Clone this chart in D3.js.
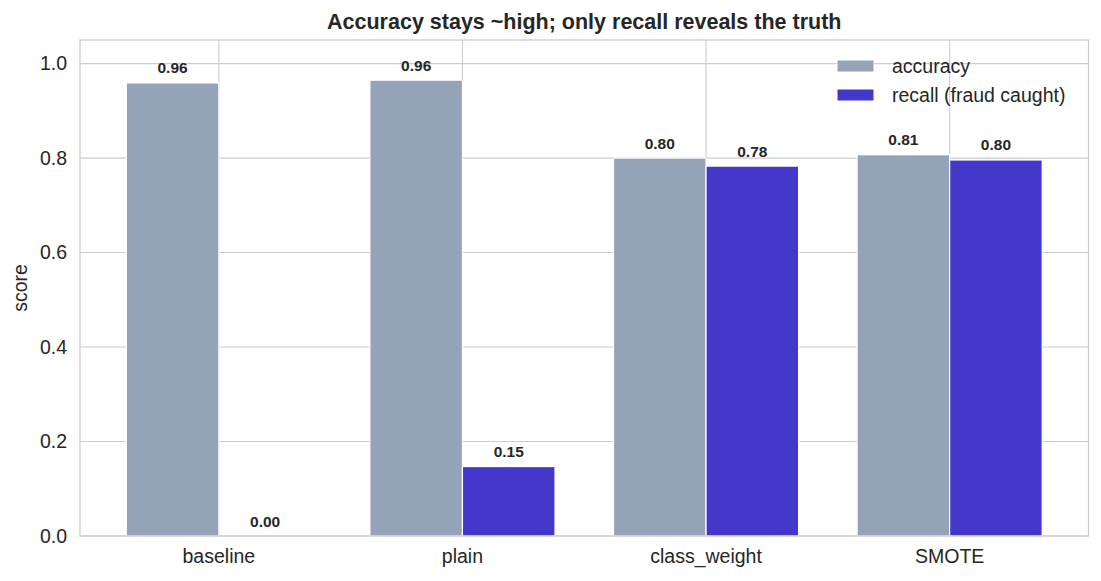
<!DOCTYPE html>
<html>
<head>
<meta charset="utf-8">
<script src="https://cdn.jsdelivr.net/npm/d3@7"></script>
<style>
  body { margin: 0; background: #fff; }
  text { font-family: "Liberation Sans", Arial, sans-serif; fill: #262626; }
</style>
</head>
<body>
<div id="chart"></div>
<script>
var categories = ['baseline', 'plain', 'class_weight', 'SMOTE'];
var accuracy = [0.959, 0.965, 0.800, 0.807];
var recall = [0.000, 0.147, 0.783, 0.796];
var seriesNames = ['accuracy', 'recall (fraud caught)'];
var seriesColors = ['#94a3b8', '#4338ca'];
var yTicks = [0, 0.2, 0.4, 0.6, 0.8, 1.0];

var svgWidth = 1101;
var svgHeight = 581;
var margin = { top: 40, right: 12.5, bottom: 45, left: 80 };
var width = svgWidth - margin.left - margin.right;
var height = svgHeight - margin.top - margin.bottom;

var svg = d3.select('#chart')
  .append('svg')
  .attr('width', svgWidth)
  .attr('height', svgHeight);

var chartGroup = svg.append('g')
  .attr('transform', `translate(${margin.left}, ${margin.top})`);

var barWidth = 0.38;

// x is a positional index scale (like matplotlib), y is the score
var xScale = d3.scaleLinear()
  .domain([-0.57, categories.length - 1 + 0.57])
  .range([0, width]);

var yScale = d3.scaleLinear()
  .domain([0, 1.05])
  .range([height, 0]);

// grid
chartGroup.append('g')
  .selectAll('line')
  .data(yTicks)
  .enter()
  .append('line')
  .attr('x1', 0)
  .attr('x2', width)
  .attr('y1', d => yScale(d))
  .attr('y2', d => yScale(d))
  .attr('stroke', '#cccccc')
  .attr('stroke-width', 1.1);

chartGroup.append('g')
  .selectAll('line')
  .data(categories)
  .enter()
  .append('line')
  .attr('x1', (d, i) => xScale(i))
  .attr('x2', (d, i) => xScale(i))
  .attr('y1', 0)
  .attr('y2', height)
  .attr('stroke', '#cccccc')
  .attr('stroke-width', 1.1);

// bars + value labels
var series = [accuracy, recall];
series.forEach(function(values, s) {
  var offset = s === 0 ? -barWidth : 0;
  chartGroup.append('g')
    .selectAll('rect')
    .data(values)
    .enter()
    .append('rect')
    .attr('x', (d, i) => xScale(i + offset))
    .attr('y', d => yScale(d))
    .attr('width', xScale(barWidth) - xScale(0))
    .attr('height', d => yScale(0) - yScale(d))
    .attr('fill', seriesColors[s])
    .attr('stroke', '#ffffff')
    .attr('stroke-width', 1.2);

  chartGroup.append('g')
    .selectAll('text')
    .data(values)
    .enter()
    .append('text')
    .attr('x', (d, i) => xScale(i + offset + barWidth / 2))
    .attr('y', d => yScale(d) - 9.5)
    .attr('text-anchor', 'middle')
    .attr('font-size', '15.5px')
    .attr('font-weight', 'bold')
    .text(d => d.toFixed(2));
});

// spines
chartGroup.append('rect')
  .attr('x', 0)
  .attr('y', 0)
  .attr('width', width)
  .attr('height', height)
  .attr('fill', 'none')
  .attr('stroke', '#cccccc')
  .attr('stroke-width', 1.3);

// axis labels
chartGroup.append('g')
  .selectAll('text')
  .data(yTicks)
  .enter()
  .append('text')
  .attr('x', -13)
  .attr('y', d => yScale(d))
  .attr('dy', '0.35em')
  .attr('text-anchor', 'end')
  .attr('font-size', '19.5px')
  .text(d => d.toFixed(1));

chartGroup.append('g')
  .selectAll('text')
  .data(categories)
  .enter()
  .append('text')
  .attr('x', (d, i) => xScale(i))
  .attr('y', height + 27)
  .attr('text-anchor', 'middle')
  .attr('font-size', '19.5px')
  .text(d => d);

chartGroup.append('text')
  .attr('transform', 'rotate(-90)')
  .attr('x', -height / 2)
  .attr('y', -53)
  .attr('text-anchor', 'middle')
  .attr('font-size', '19.5px')
  .text('score');

// title
chartGroup.append('text')
  .attr('x', width / 2)
  .attr('y', -11)
  .attr('text-anchor', 'middle')
  .attr('font-size', '21.5px')
  .attr('font-weight', 'bold')
  .text('Accuracy stays ~high; only recall reveals the truth');

// legend
var legend = chartGroup.append('g')
  .attr('transform', `translate(${757}, ${20})`);

seriesNames.forEach(function(name, i) {
  legend.append('rect')
    .attr('x', 0)
    .attr('y', i * 29)
    .attr('width', 37)
    .attr('height', 12)
    .attr('fill', seriesColors[i])
    .attr('stroke', '#ffffff')
    .attr('stroke-width', 1);
  legend.append('text')
    .attr('x', 55)
    .attr('y', i * 29 + 6)
    .attr('dy', '0.35em')
    .attr('font-size', '19.5px')
    .text(name);
});
</script>
</body>
</html>
